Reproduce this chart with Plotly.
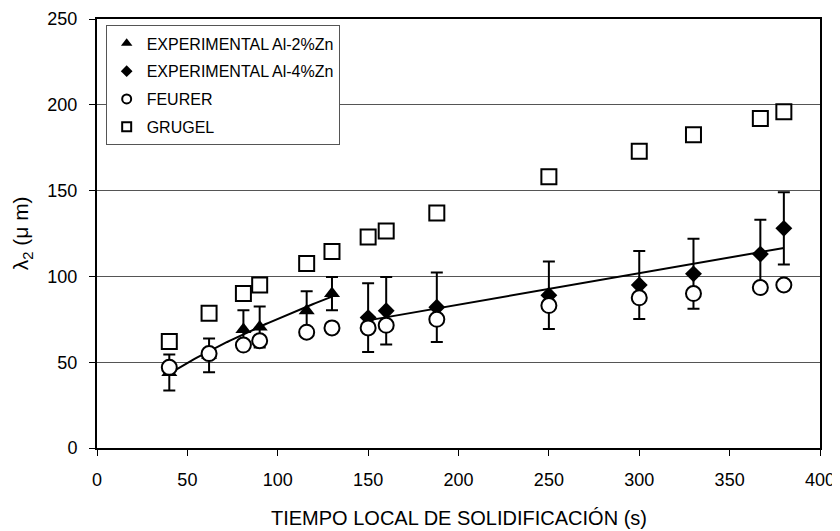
import numpy as np
import plotly.graph_objects as go

# ---- data ----
t_al2 = [40, 62, 81, 90, 116, 130]
lam_al2 = [44, 54, 69, 70.5, 80, 90]
err_al2 = [10.5, 9.8, 11.3, 12, 11.3, 9.7]

t_al4 = [150, 160, 188, 250, 300, 330, 367, 380]
lam_al4 = [76, 80, 82, 89, 95, 101.5, 113, 128]
err_al4 = [20, 19.7, 20.3, 19.7, 19.8, 20.4, 20, 21]

t_all = [40, 62, 81, 90, 116, 130, 150, 160, 188, 250, 300, 330, 367, 380]
lam_feurer = [47, 55, 60, 62.5, 67.5, 70, 70, 71.5, 75, 83, 87.5, 90, 93.5, 95]
lam_grugel = [62, 78.5, 90, 95, 107.5, 114.5, 123, 126.5, 137, 158, 173, 182.5, 192, 196]

names = ["EXPERIMENTAL Al-2%Zn", "EXPERIMENTAL Al-4%Zn", "FEURER", "GRUGEL"]
x_ticks = [0, 50, 100, 150, 200, 250, 300, 350, 400]
y_ticks = [0, 50, 100, 150, 200, 250]
x_title = "TIEMPO LOCAL DE SOLIDIFICACIÓN (s)"
y_title = "λ<sub>2</sub> (μ m)"

FONT = "Arial, Liberation Sans, sans-serif"

# trend lines fitted from the data (power fit for Al-2%Zn, linear for Al-4%Zn)
b, lna = np.polyfit(np.log(t_al2), np.log(lam_al2), 1)
x_fit1 = np.linspace(min(t_al2), max(t_al2), 60)
y_fit1 = np.exp(lna) * x_fit1 ** b
m, c = np.polyfit(t_al4, lam_al4, 1)
x_fit2 = np.array([min(t_al4), max(t_al4)])
y_fit2 = m * x_fit2 + c

fig = go.Figure()

fig.add_trace(go.Scatter(x=t_all, y=lam_grugel, mode="markers", showlegend=False,
                         marker=dict(symbol="square-open", size=15, color="black",
                                     line=dict(width=2, color="black"))))
fig.add_trace(go.Scatter(x=x_fit1, y=y_fit1, mode="lines", showlegend=False,
                         line=dict(color="black", width=2)))
fig.add_trace(go.Scatter(x=x_fit2, y=y_fit2, mode="lines", showlegend=False,
                         line=dict(color="black", width=2)))
fig.add_trace(go.Scatter(x=t_al2, y=lam_al2, mode="markers", showlegend=False,
                         marker=dict(symbol="triangle-up", size=14, color="black"),
                         error_y=dict(type="data", array=err_al2, color="black",
                                      thickness=2, width=6)))
fig.add_trace(go.Scatter(x=t_al4, y=lam_al4, mode="markers", showlegend=False,
                         marker=dict(symbol="diamond", size=13, color="black"),
                         error_y=dict(type="data", array=err_al4, color="black",
                                      thickness=2, width=6)))
fig.add_trace(go.Scatter(x=t_all, y=lam_feurer, mode="markers", showlegend=False,
                         marker=dict(symbol="circle", size=15, color="white",
                                     line=dict(width=2, color="black"))))

# legend entries
leg_markers = [
    dict(symbol="triangle-up", size=10, color="black"),
    dict(symbol="diamond", size=9, color="black"),
    dict(symbol="circle-open", size=9, color="black", line=dict(width=2, color="black")),
    dict(symbol="square-open", size=9, color="black", line=dict(width=2, color="black")),
]
for i, (nm, mk) in enumerate(zip(names, leg_markers)):
    fig.add_trace(go.Scatter(x=[None], y=[None], mode="markers", name=nm,
                             marker=mk, legendgroup=f"g{i}"))

# the page body has an 8px margin, so the figure starts at (8, 8)
fig.update_layout(
    width=832, height=523,
    margin=dict(l=89, r=20, t=11, b=83),
    paper_bgcolor="white", plot_bgcolor="white",
    font=dict(family=FONT, size=16, color="black"),
    showlegend=True,
    legend=dict(x=0.012, y=0.985, xanchor="left", yanchor="top",
                bgcolor="white", bordercolor="#555555", borderwidth=1,
                font=dict(size=16, family=FONT), traceorder="grouped",
                tracegroupgap=4),
    annotations=[
        dict(text=x_title, xref="paper", yref="paper", x=0.5, y=-0.163,
             xanchor="center", yanchor="middle", showarrow=False,
             font=dict(size=20, family=FONT)),
        dict(text=y_title, xref="paper", yref="paper", x=-0.104, y=0.5,
             xanchor="center", yanchor="middle", showarrow=False, textangle=-90,
             font=dict(size=21, family=FONT)),
    ],
)
fig.update_xaxes(range=[0, 400], tickvals=x_ticks, ticks="outside", ticklen=6,
                 tickcolor="black", showline=True, linecolor="black", linewidth=2,
                 mirror=True, showgrid=False, zeroline=False, automargin=False,
                 tickfont=dict(size=18), ticklabelstandoff=8)
fig.update_yaxes(range=[0, 250], tickvals=y_ticks, ticks="outside", ticklen=6,
                 tickcolor="black", showline=True, linecolor="black", linewidth=2,
                 mirror=True, showgrid=True, gridcolor="#555555", gridwidth=1,
                 zeroline=False, automargin=False, tickfont=dict(size=18),
                 ticklabelstandoff=8)

fig.write_html("out.html")
